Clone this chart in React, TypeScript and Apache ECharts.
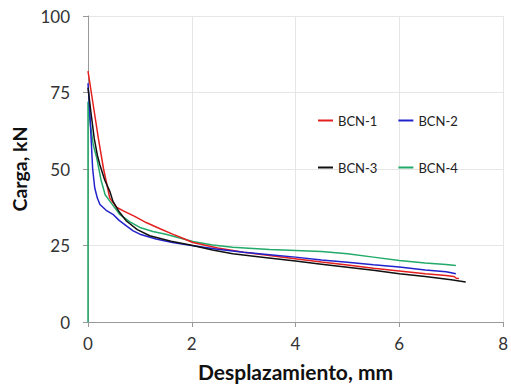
import React, { useEffect, useRef } from "react";
import * as echarts from "echarts";

const seriesNames = ["BCN-1", "BCN-2", "BCN-3", "BCN-4"];
const seriesColors = ["#e3201f", "#2222cc", "#111111", "#22aa6a"];

const bcn1: [number, number][] = [
  [0, 82], [0.1, 71], [0.2, 60], [0.3, 50], [0.42, 40.5], [0.55, 37.5], [0.68, 36.3], [0.9, 34.5],
  [1.12, 32.5], [1.4, 30.4], [1.63, 28.7], [1.85, 27.2], [2.02, 26.0], [2.5, 24.2], [3.0, 22.8],
  [3.5, 21.7], [4.03, 20.6], [4.5, 19.6], [5.0, 18.6], [5.5, 17.6], [6.0, 16.7], [6.5, 15.8],
  [6.9, 15.2], [7.05, 14.9], [7.1, 14.3], [7.15, 14.2],
];
const bcn2: [number, number][] = [
  [0, 78], [0.03, 70], [0.06, 60], [0.09, 50], [0.13, 43.8], [0.18, 40.5], [0.23, 38.4], [0.35, 36.5],
  [0.48, 35.2], [0.6, 33.2], [0.74, 31.4], [0.87, 29.8], [1.0, 28.7], [1.31, 27.1], [1.63, 26.0],
  [2.0, 25.0], [2.5, 23.8], [3.0, 22.8], [3.5, 22.0], [4.0, 21.2], [4.5, 20.3], [5.0, 19.5],
  [5.5, 18.7], [6.0, 18.0], [6.5, 17.0], [6.9, 16.4], [7.0, 16.1], [7.09, 15.8],
];
const bcn3: [number, number][] = [
  [0, 76.6], [0.06, 68], [0.12, 60], [0.18, 54.5], [0.23, 51.3], [0.32, 46.5], [0.42, 42.7],
  [0.48, 39.5], [0.6, 36.0], [0.74, 33.0], [0.95, 30.2], [1.19, 28.2], [1.6, 26.4], [2.02, 25.0],
  [2.4, 23.5], [2.79, 22.3], [3.4, 21.1], [4.0, 19.9], [4.5, 18.9], [5.0, 17.9], [5.5, 16.9],
  [6.0, 15.8], [6.5, 14.9], [7.0, 13.8], [7.28, 13.1],
];
const bcn4: [number, number][] = [
  [0, 0], [0, 72], [0.05, 64], [0.1, 58], [0.17, 53.5], [0.25, 46.5], [0.33, 41.6], [0.42, 39.5],
  [0.61, 35.2], [0.8, 32.8], [1.0, 30.9], [1.25, 29.6], [1.5, 28.7], [2.02, 26.3], [2.4, 25.2],
  [2.79, 24.4], [3.1, 24.1], [3.5, 23.7], [4.0, 23.4], [4.5, 23.0], [5.0, 22.3], [5.5, 21.2],
  [6.0, 20.1], [6.5, 19.3], [6.9, 18.8], [7.09, 18.5],
];
const seriesData = [bcn1, bcn2, bcn3, bcn4];

const xTicks = [0, 2, 4, 6, 8];
const yTicks = [0, 25, 50, 75, 100];

export default function App() {
  const ref = useRef<HTMLDivElement>(null);
  useEffect(() => {
    if (!ref.current) return;
    const chart = echarts.init(ref.current, undefined, { renderer: "svg" });
    const font = "Lato, 'Open Sans', sans-serif";
    const legendBase = {
      left: 313,
      itemWidth: 15,
      itemHeight: 2,
      itemGap: 21,
      icon: "rect",
      textStyle: { fontSize: 13, color: "#222", fontFamily: font },
    };
    chart.setOption({
      animation: false,
      backgroundColor: "#ffffff",
      textStyle: { fontFamily: font },
      grid: { left: 88, right: 5, top: 16, bottom: 61, containLabel: false },
      legend: [
        { ...legendBase, data: [seriesNames[0], seriesNames[1]], top: 109 },
        { ...legendBase, data: [seriesNames[2], seriesNames[3]], top: 156 },
      ],
      xAxis: {
        type: "value",
        min: xTicks[0],
        max: xTicks[xTicks.length - 1],
        interval: 2,
        name: "Desplazamiento, mm",
        nameLocation: "middle",
        nameGap: 39,
        nameTextStyle: { fontSize: 21, fontWeight: "bold", color: "#111", fontFamily: font },
        axisLine: { lineStyle: { color: "#999", width: 1 } },
        axisTick: { show: true, length: 5, lineStyle: { color: "#999" } },
        axisLabel: { fontSize: 17, color: "#333", margin: 13 },
        splitLine: { show: true, lineStyle: { color: "#e6e6e6" } },
      },
      yAxis: {
        type: "value",
        min: yTicks[0],
        max: yTicks[yTicks.length - 1],
        interval: 25,
        name: "Carga, kN",
        nameLocation: "middle",
        nameGap: 54,
        nameTextStyle: { fontSize: 19.5, fontWeight: "bold", color: "#111", fontFamily: font },
        axisLine: { show: true, lineStyle: { color: "#999", width: 1 } },
        axisTick: { show: true, length: 5, lineStyle: { color: "#999" } },
        axisLabel: { fontSize: 17, color: "#333", margin: 18 },
        splitLine: { show: true, lineStyle: { color: "#e6e6e6" } },
      },
      series: seriesNames.map((name, i) => ({
        name,
        type: "line",
        data: seriesData[i],
        showSymbol: false,
        symbol: "none",
        color: seriesColors[i],
        lineStyle: { width: 1.5, color: seriesColors[i] },
        z: i === 3 ? 1 : 2 + i,
      })),
    });
    return () => chart.dispose();
  }, []);
  return (
    <div
      ref={ref}
      style={{ position: "fixed", left: 0, top: 0, width: 511, height: 387, background: "#fff" }}
    />
  );
}
